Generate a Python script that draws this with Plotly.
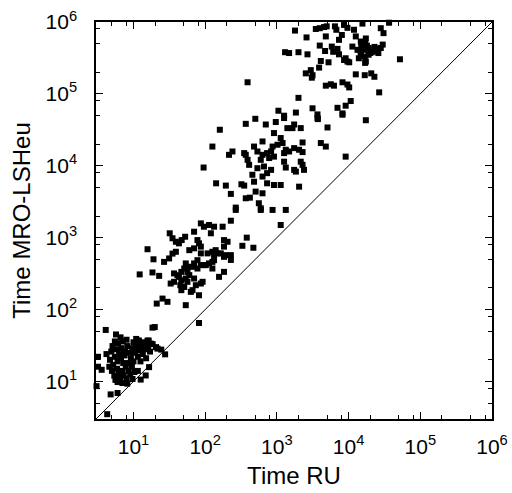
import math
import plotly.graph_objects as go

# Time RU (x) against Time MRO-LSHeu (y)

# small instances, bottom-left cluster
x_low = [4.1, 3.2, 3.2, 3.6, 3.05, 4.8, 6.0, 4.3, 12.6, 14.8,
         16.5, 21.6, 27.6, 18.4, 19.8, 5.7, 6.6, 11.4, 15.7, 17.4,
         11.4, 8.2, 10.9, 11.9, 14.9, 16.3, 20.6, 4.2, 24.4,
         4.7, 4.9, 5.0, 5.1, 5.2, 5.4, 5.5, 5.6, 5.8, 5.9,
         6.1, 6.2, 6.3, 6.5, 6.8, 7.0, 7.1,
         7.3, 7.5, 7.6, 7.8, 8.0, 8.2, 8.5,
         8.8, 9.0, 9.5, 9.6, 10.3, 10.5, 11,
         11.5, 12, 12.5, 13, 13.5, 14, 14.5, 15, 16,
         17, 5.5, 4.6, 7, 6, 9.7, 11.5, 8, 10, 18.5,
         6.0, 7.2, 8.6, 10, 12.5, 6.7, 9.2]
y_low = [52, 22, 16, 14.5, 8.6, 6.6, 6.9, 3.5, 10.6, 12.1,
         15.8, 28.6, 23.8, 56, 57, 45, 41, 37, 37, 33.6,
         28.6, 9.3, 39, 37, 33.6, 37, 30, 24, 27.7,
         20, 26, 14, 31, 17, 12, 22, 10.5, 28, 15,
         34, 13, 24, 11, 29, 14, 36,
         12, 23, 26, 16, 11, 31, 14,
         25, 12.5, 16, 29, 13.5, 25, 32,
         22, 27, 34, 30, 24, 35, 28, 21, 31,
         26, 36, 16, 9.5, 9.8, 10.8, 14, 38, 35, 33,
         19, 18, 18, 19, 19, 21, 21]

# middle cluster
x_mid = [12.2, 15.7, 19, 18.4, 22.8, 21.1, 25.4, 29.8, 26.7, 31.4,
         35, 39, 36.8, 33, 36.8, 41, 46.5, 46.5, 53.6, 66.6,
         74, 87, 82, 63, 82, 56.6, 70, 78, 87, 108,
         96, 113, 133, 148, 165, 183, 228, 156, 183,
         32, 35, 39, 43, 47, 52.5, 70, 87, 96, 113,
         78, 82, 87, 70, 60, 126, 140,
         53.6, 51, 56.6, 66.6, 78, 87, 102,
         43, 46.5, 53.6, 60, 70, 45, 51, 56.6, 92,
         175, 183, 183, 228, 267, 596, 870, 1330, 1130, 380,
         330, 470, 205, 133, 194, 228, 126, 126,
         133, 120]
y_mid = [308, 690, 500, 328, 294, 121, 142, 128, 460, 514,
         600, 636, 318, 230, 243, 300, 334, 186, 115, 186,
         218, 230, 158, 176, 65, 393, 438, 486, 604, 604,
         415, 438, 486, 604, 604, 541, 571, 285, 334,
         1150, 980, 877, 833, 925, 1030, 1210, 1580, 1420, 1500,
         925, 833, 750, 710, 670, 636, 670,
         438, 372, 334, 393, 372, 415, 415,
         285, 255, 270, 301, 270, 218, 206, 243, 243,
         1420, 925, 750, 1720, 2430, 2430, 2430, 2430, 1500, 1000,
         770, 724, 877, 571, 571, 490, 460, 372,
         1420, 1150]

# upper-middle cluster
x_um = [95, 126, 160, 368, 500, 390, 215, 240, 350, 368,
        390, 410, 480, 535, 630, 630, 596, 535, 660, 455,
        630, 480, 142, 194, 228, 320, 350, 505, 630, 368,
        420, 560, 596, 267, 700, 965, 1260, 1400, 1650, 2150,
        1740, 3680, 5080, 8220, 910, 1130, 1200, 1020, 870, 830,
        730, 1330, 1260, 1480, 1740, 2040, 2280, 2280, 4100, 4810,
        9100, 780, 910, 1260, 1330, 2150, 2280, 2390, 1740,
        1840, 730, 830, 730, 910, 1130, 2040]
y_um = [9450, 18500, 31700, 38300, 45000, 145000, 14200, 15800, 15000, 14200,
        12100, 10300, 18500, 15800, 21800, 14200, 12100, 9250, 9770, 7500,
        7080, 6000, 5700, 5300, 4060, 5530, 5300, 4370, 4140, 3530,
        3600, 3010, 2560, 2620, 37500, 40600, 46100, 33400, 33400, 33400,
        37500, 46100, 34100, 51300, 28500, 24300, 20700, 19600, 18500, 15800,
        15000, 16700, 15000, 15800, 17600, 16700, 15500, 21100, 20700, 18500,
        13400, 12800, 13400, 11400, 9450, 11400, 10300, 8770, 8770,
        8300, 7890, 8770, 5700, 5400, 5400, 5120]

# top cluster
x_top = [1790, 2590, 3490, 3960, 4550, 4950, 6450, 6750, 8050, 8650,
         4810, 7350, 3960, 4700, 5830, 6100, 7000, 7350, 1300, 1480,
         2000, 2670, 4100, 5250, 8650, 3880, 2530, 2970, 3140, 3070,
         4810, 5650, 6250, 8220, 2000, 1050, 1840, 3140, 3680, 7000,
         8220, 1260, 9640, 15600, 36700, 11900, 12600, 28100,
         30700, 14800, 17400, 11300, 13300, 14800, 16800, 19100, 22900, 24400,
         28100, 29900, 14800, 16800, 20000, 13900, 17400, 9100, 9640, 10200,
         52000, 12600, 16800, 20700, 22900, 9640, 10200, 26700, 10700,
         9100, 15000, 18000, 21000, 25000, 19000, 23000, 26000, 17000, 17000,
         17400, 3730]
y_top = [760000, 610000, 800000, 820000, 850000, 870000, 870000, 780000, 660000, 910000,
         630000, 565000, 470000, 395000, 455000, 385000, 423000, 355000, 380000, 370000,
         380000, 355000, 287000, 275000, 296000, 232000, 193000, 214000, 182000, 168000,
         130000, 136000, 130000, 145000, 88000, 58300, 55000, 63000, 51800, 64000,
         53500, 49700, 830000, 950000, 977000, 780000, 630000, 820000,
         700000, 535000, 590000, 455000, 410000, 385000, 410000, 435000, 410000, 423000,
         435000, 485000, 348000, 330000, 370000, 313000, 282000, 313000, 282000, 275000,
         303000, 187000, 182000, 193000, 173000, 135000, 123000, 105000, 79500,
         68500, 450000, 470000, 380000, 390000, 350000, 450000, 370000, 510000, 270000,
         43000, 44600]

x_ru = x_low + x_mid + x_um + x_top
y_mro = y_low + y_mid + y_um + y_top

axis_min, axis_max = 3, 1e6
diag = [axis_min, axis_max]

major_vals = [10, 100, 1000, 10000, 100000, 1000000]
major_text = ["10<sup>1</sup>", "10<sup>2</sup>", "10<sup>3</sup>",
              "10<sup>4</sup>", "10<sup>5</sup>", "10<sup>6</sup>"]
minor_vals = [m * 10 ** e for e in range(0, 6) for m in (2, 5, 8)]

fig = go.Figure()

fig.add_trace(go.Scatter(x=diag, y=diag, mode='lines',
                         line=dict(color='black', width=1),
                         hoverinfo='skip'))

fig.add_trace(go.Scatter(x=x_ru, y=y_mro, mode='markers',
                         marker=dict(symbol='square', size=6, color='black'),
                         cliponaxis=False))

axis_style = dict(
    type='log',
    range=[math.log10(axis_min), math.log10(axis_max)],
    tickvals=major_vals, ticktext=major_text,
    tickfont=dict(size=21),
    ticks='inside', ticklen=7, tickwidth=1, tickcolor='black',
    minor=dict(tickvals=minor_vals, ticks='inside', ticklen=4,
               tickwidth=1, tickcolor='black'),
    showline=True, linecolor='black', linewidth=1.5, mirror='allticks',
    showgrid=False, zeroline=False, automargin=False,
)

fig.update_xaxes(**axis_style, ticklabelstandoff=8,
                 title=dict(text='Time RU', font=dict(size=24), standoff=10))
fig.update_yaxes(**axis_style, ticklabelstandoff=13,
                 title=dict(text='Time MRO-LSHeu', font=dict(size=24), standoff=8))

fig.update_layout(
    width=512, height=493,
    margin=dict(l=96, r=20, t=22, b=74),
    plot_bgcolor='white', paper_bgcolor='white',
    font=dict(family='Liberation Sans, Arial, sans-serif', size=20, color='black'),
    showlegend=False,
)

# drop the browser's default page margin so the figure sits at the window corner
fig.write_html("out.html", config={'displayModeBar': False},
               post_script="document.body.style.margin='0';")
